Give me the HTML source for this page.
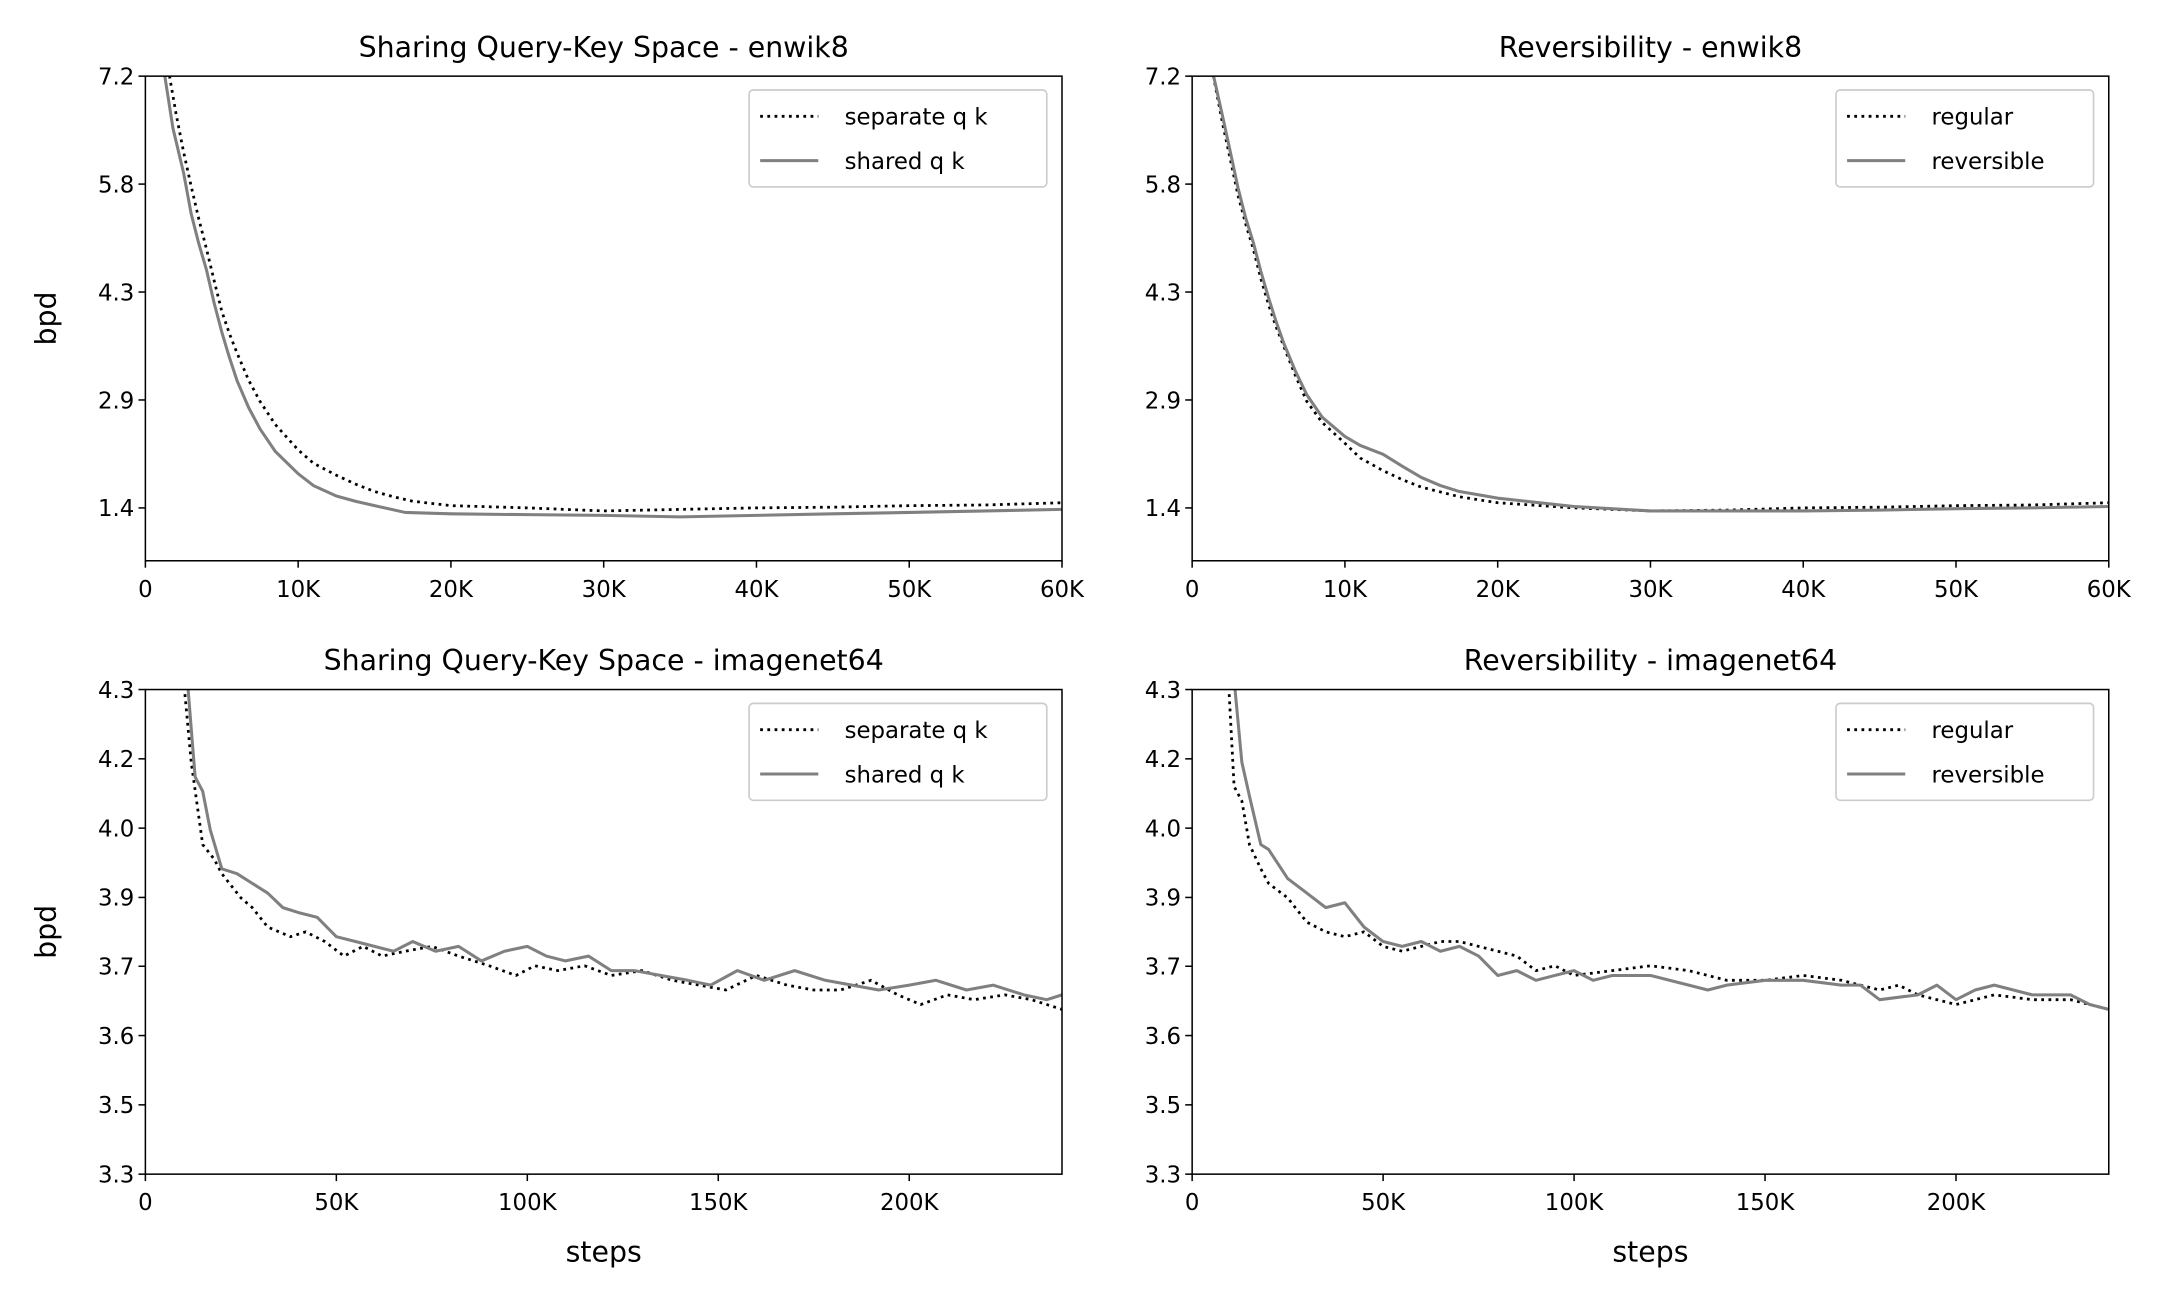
<!DOCTYPE html>
<html><head><meta charset="utf-8"><style>
html,body{margin:0;padding:0;background:#fff;}
svg{display:block;font-family:"DejaVu Sans","Liberation Sans",sans-serif;}
</style></head><body>
<svg id="fig" width="2160" height="1296" viewBox="0 0 1560 936" xmlns="http://www.w3.org/2000/svg"></svg>
<script>
// ---- data ----
const enwikTicks = [7.2, 5.75, 4.3, 2.85, 1.4];
const enwikTickLabels = ["7.2", "5.8", "4.3", "2.9", "1.4"];
const enwikXTicks = [0, 10000, 20000, 30000, 40000, 50000, 60000];
const enwikXLabels = ["0", "10K", "20K", "30K", "40K", "50K", "60K"];
const imgTicks = [4.3, 4.157, 4.014, 3.871, 3.729, 3.586, 3.443, 3.3];
const imgTickLabels = ["4.3", "4.2", "4.0", "3.9", "3.7", "3.6", "3.5", "3.3"];
const imgXTicks = [0, 50000, 100000, 150000, 200000];
const imgXLabels = ["0", "50K", "100K", "150K", "200K"];

const sepQkSteps = [1500, 2000, 2500, 3000, 3500, 4000, 4500, 5000, 5500, 6000, 6750, 7500, 8500, 10000, 11000, 12500, 13750, 15000, 16250, 17500, 20000, 25000, 30000, 35000, 40000, 45000, 50000, 55000, 60000];
const sepQkVals  = [7.3, 6.7, 6.18, 5.72, 5.28, 4.88, 4.45, 4.04, 3.74, 3.48, 3.12, 2.83, 2.52, 2.18, 2.00, 1.84, 1.72, 1.62, 1.55, 1.49, 1.43, 1.40, 1.36, 1.38, 1.40, 1.41, 1.43, 1.44, 1.47];
const sharedQkSteps = [1200, 1800, 2500, 3000, 3500, 4000, 4500, 5000, 5500, 6000, 6750, 7500, 8500, 10000, 11000, 12500, 13750, 15000, 17000, 20000, 25000, 30000, 35000, 40000, 45000, 50000, 55000, 60000];
const sharedQkVals  = [7.3, 6.5, 5.9, 5.35, 4.95, 4.6, 4.15, 3.76, 3.42, 3.11, 2.75, 2.46, 2.16, 1.86, 1.70, 1.56, 1.49, 1.43, 1.34, 1.32, 1.31, 1.30, 1.28, 1.30, 1.32, 1.34, 1.36, 1.38];

const regSteps = [1300, 2000, 2500, 3000, 3500, 4000, 4500, 5000, 5500, 6000, 6750, 7500, 8500, 10000, 11000, 12500, 13750, 15000, 17500, 20000, 25000, 30000, 35000, 40000, 45000, 50000, 55000, 60000];
const regVals  = [7.3, 6.55, 6.08, 5.6, 5.22, 4.88, 4.48, 4.13, 3.83, 3.57, 3.18, 2.83, 2.55, 2.27, 2.07, 1.90, 1.78, 1.68, 1.55, 1.47, 1.40, 1.36, 1.37, 1.40, 1.41, 1.43, 1.44, 1.47];
const revSteps = [1300, 2000, 2500, 3000, 3500, 4000, 4500, 5000, 5500, 6000, 6750, 7500, 8500, 10000, 11000, 12500, 13750, 15000, 16250, 17500, 20000, 25000, 30000, 35000, 40000, 45000, 50000, 55000, 60000];
const revVals  = [7.3, 6.65, 6.18, 5.7, 5.3, 4.97, 4.58, 4.22, 3.9, 3.61, 3.24, 2.92, 2.62, 2.36, 2.24, 2.12, 1.96, 1.81, 1.70, 1.62, 1.53, 1.42, 1.36, 1.36, 1.36, 1.37, 1.39, 1.40, 1.42];

const imgSepSteps = [10000, 12000, 15000, 18000, 20000, 25000, 28000, 32000, 38000, 42000, 47000, 52000, 57000, 62000, 68000, 75000, 82000, 90000, 97000, 102000, 108000, 115000, 122000, 130000, 138000, 145000, 152000, 160000, 168000, 175000, 182000, 190000, 197000, 203000, 210000, 217000, 225000, 232000, 240000];
const imgSepVals  = [4.32, 4.15, 3.98, 3.95, 3.92, 3.87, 3.85, 3.81, 3.79, 3.80, 3.78, 3.75, 3.77, 3.75, 3.76, 3.77, 3.75, 3.73, 3.71, 3.73, 3.72, 3.73, 3.71, 3.72, 3.70, 3.69, 3.68, 3.71, 3.69, 3.68, 3.68, 3.70, 3.67, 3.65, 3.67, 3.66, 3.67, 3.66, 3.64];
const imgShSteps = [11000, 13000, 15000, 17000, 20000, 24000, 28000, 32000, 36000, 40000, 45000, 50000, 55000, 60000, 65000, 70000, 76000, 82000, 88000, 94000, 100000, 105000, 110000, 116000, 122000, 128000, 135000, 142000, 148000, 155000, 162000, 170000, 178000, 185000, 192000, 200000, 207000, 215000, 222000, 230000, 236000, 240000];
const imgShVals  = [4.32, 4.12, 4.09, 4.01, 3.93, 3.92, 3.90, 3.88, 3.85, 3.84, 3.83, 3.79, 3.78, 3.77, 3.76, 3.78, 3.76, 3.77, 3.74, 3.76, 3.77, 3.75, 3.74, 3.75, 3.72, 3.72, 3.71, 3.70, 3.69, 3.72, 3.70, 3.72, 3.70, 3.69, 3.68, 3.69, 3.70, 3.68, 3.69, 3.67, 3.66, 3.67];

const bRegSteps = [9500, 11000, 13000, 15000, 18000, 20000, 25000, 30000, 35000, 40000, 45000, 50000, 55000, 60000, 65000, 70000, 75000, 80000, 85000, 90000, 95000, 100000, 110000, 120000, 130000, 140000, 150000, 160000, 170000, 180000, 185000, 190000, 200000, 210000, 220000, 230000, 240000];
const bRegVals  = [4.32, 4.10, 4.07, 3.98, 3.93, 3.90, 3.87, 3.82, 3.80, 3.79, 3.80, 3.77, 3.76, 3.77, 3.78, 3.78, 3.77, 3.76, 3.75, 3.72, 3.73, 3.71, 3.72, 3.73, 3.72, 3.70, 3.70, 3.71, 3.70, 3.68, 3.69, 3.67, 3.65, 3.67, 3.66, 3.66, 3.64];
const bRevSteps = [11000, 13000, 15000, 18000, 20000, 25000, 30000, 35000, 40000, 45000, 50000, 55000, 60000, 65000, 70000, 75000, 80000, 85000, 90000, 95000, 100000, 105000, 110000, 120000, 130000, 135000, 140000, 150000, 160000, 170000, 175000, 180000, 190000, 195000, 200000, 205000, 210000, 220000, 230000, 235000, 240000];
const bRevVals  = [4.32, 4.15, 4.08, 3.98, 3.97, 3.91, 3.88, 3.85, 3.86, 3.81, 3.78, 3.77, 3.78, 3.76, 3.77, 3.75, 3.71, 3.72, 3.70, 3.71, 3.72, 3.70, 3.71, 3.71, 3.69, 3.68, 3.69, 3.70, 3.70, 3.69, 3.69, 3.66, 3.67, 3.69, 3.66, 3.68, 3.69, 3.67, 3.67, 3.65, 3.64];

const NS = "http://www.w3.org/2000/svg";
const svg = document.getElementById("fig");
function mk(tag, attrs, parent) {
  const e = document.createElementNS(NS, tag);
  for (const k in attrs) e.setAttribute(k, attrs[k]);
  (parent || svg).appendChild(e);
  return e;
}
let clipId = 0;
function panel(o) {
  const L = o.x0, R = o.x1, T = o.y0, B = o.y1;
  const g = mk("g", {});
  
  
  const sx = v => L + (v - o.xmin) / (o.xmax - o.xmin) * (R - L);
  const sy = v => B - (v - o.ymin) / (o.ymax - o.ymin) * (B - T);
  const id = "c" + (clipId++);
  const cp = mk("clipPath", { id: id }, g);
  mk("rect", { x: L, y: T, width: R - L, height: B - T }, cp);
  o.series.forEach(s => {
    let d = "";
    s.xs.forEach((x, i) => { d += (i ? "L" : "M") + sx(x).toFixed(1) + "," + sy(s.ys[i]).toFixed(1); });
    const p = mk("path", { d: d, fill: "none", stroke: s.color, "stroke-width": s.dotted ? 2 : 2.2,
      "stroke-dasharray": s.dotted ? "2 3.2" : "none", "stroke-linejoin": "round", "clip-path": "url(#" + id + ")" }, g);
    
    
  });
  const fr = mk("rect", { x: L, y: T, width: R - L, height: B - T, fill: "none", stroke: "#000", "stroke-width": 1.1 }, g);
  
  
  o.yt.forEach((v, i) => {
    const y = sy(v);
    mk("line", { x1: L - 5, x2: L, y1: y, y2: y, stroke: "#000", "stroke-width": 1.1 }, g);
    const t = mk("text", { x: L - 8, y: y + 6, "text-anchor": "end", "font-size": 16.5 }, g);
    t.textContent = o.ytl[i];
    
    
  });
  o.xt.forEach((v, i) => {
    const x = sx(v);
    mk("line", { x1: x, x2: x, y1: B, y2: B + 5, stroke: "#000", "stroke-width": 1.1 }, g);
    const t = mk("text", { x: x, y: B + 26, "text-anchor": "middle", "font-size": 16.5 }, g);
    t.textContent = o.xtl[i];
    
    
  });
  const ti = mk("text", { x: (L + R) / 2, y: T - 14, "text-anchor": "middle", "font-size": 20.5 }, g);
  ti.textContent = o.title;
  
  
  if (o.ylabel) {
    const yl = mk("text", { x: 0, y: 0, "text-anchor": "middle", "font-size": 20.5, transform: "translate(40," + ((T + B) / 2) + ") rotate(-90)" }, g);
    yl.textContent = "bpd";
    
    
  }
  if (o.xlabel) {
    const xl = mk("text", { x: (L + R) / 2, y: B + 63, "text-anchor": "middle", "font-size": 20.5 }, g);
    xl.textContent = "steps";
    
    
  }
  const lg = mk("g", {}, g);
  
  
  const lw = o.legW, lx = R - 11 - lw, ly = T + 10;
  mk("rect", { x: lx, y: ly, width: lw, height: 70, rx: 3, fill: "#fff", stroke: "#ccc", "stroke-width": 1.2 }, lg);
  o.series.forEach((s, i) => {
    const yy = ly + 19 + i * 32;
    mk("line", { x1: lx + 8, x2: lx + 50, y1: yy, y2: yy, stroke: s.color, "stroke-width": s.dotted ? 2 : 2.2,
      "stroke-dasharray": s.dotted ? "2 3.2" : "none" }, lg);
    const t = mk("text", { x: lx + 69, y: yy + 6, "font-size": 16.5 }, lg);
    t.textContent = s.label;
    
    
  });
}
const topY = { y0: 55, y1: 405, ymin: 0.69, ymax: 7.2, yt: enwikTicks, ytl: enwikTickLabels, xmin: 0, xmax: 60000, xt: enwikXTicks, xtl: enwikXLabels };
const botY = { y0: 498, y1: 848, ymin: 3.3, ymax: 4.3, yt: imgTicks, ytl: imgTickLabels, xmin: 0, xmax: 240000, xt: imgXTicks, xtl: imgXLabels };
panel(Object.assign({}, topY, { name: "qk-enwik8-panel", x0: 105, x1: 767, title: "Sharing Query-Key Space - enwik8", ylabel: true, legW: 215,
  series: [{ name: "separate-qk", label: "separate q k", xs: sepQkSteps, ys: sepQkVals, color: "#000", dotted: true },
           { name: "shared-qk", label: "shared q k", xs: sharedQkSteps, ys: sharedQkVals, color: "#808080" }] }));
panel(Object.assign({}, topY, { name: "rev-enwik8-panel", x0: 861, x1: 1523, title: "Reversibility - enwik8", legW: 186,
  series: [{ name: "regular", label: "regular", xs: regSteps, ys: regVals, color: "#000", dotted: true },
           { name: "reversible", label: "reversible", xs: revSteps, ys: revVals, color: "#808080" }] }));
panel(Object.assign({}, botY, { name: "qk-imagenet64-panel", x0: 105, x1: 767, title: "Sharing Query-Key Space - imagenet64", ylabel: true, xlabel: true, legW: 215,
  series: [{ name: "separate-qk", label: "separate q k", xs: imgSepSteps, ys: imgSepVals, color: "#000", dotted: true },
           { name: "shared-qk", label: "shared q k", xs: imgShSteps, ys: imgShVals, color: "#808080" }] }));
panel(Object.assign({}, botY, { name: "rev-imagenet64-panel", x0: 861, x1: 1523, title: "Reversibility - imagenet64", xlabel: true, legW: 186,
  series: [{ name: "regular", label: "regular", xs: bRegSteps, ys: bRegVals, color: "#000", dotted: true },
           { name: "reversible", label: "reversible", xs: bRevSteps, ys: bRevVals, color: "#808080" }] }));
</script>
</body></html>
